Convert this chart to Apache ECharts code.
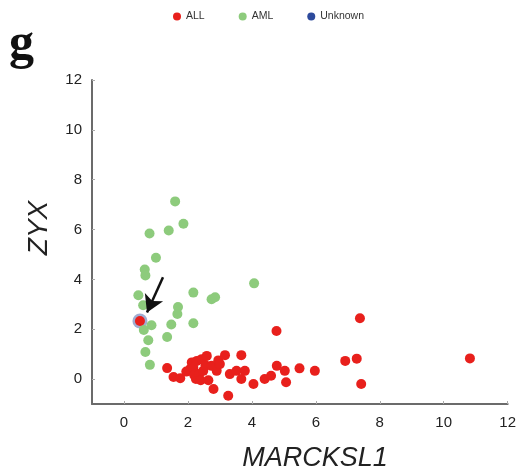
<!DOCTYPE html>
<html>
<head>
<meta charset="utf-8">
<script src="https://cdn.jsdelivr.net/npm/echarts@6/dist/echarts.min.js"></script>
<style>
  html, body { margin: 0; padding: 0; background: #fff; }
  #chart { width: 519px; height: 470px; }
</style>
</head>
<body>
<div id="chart"></div>
<script>
// values (x = MARCKSL1, y = ZYX)
const allPoints = [
  [1.35, 0.44], [1.55, 0.08], [1.76, 0.03], [1.95, 0.3], [2.07, 0.4], [2.12, 0.67],
  [2.17, 0.45], [2.2, 0.15], [2.28, 0.73], [2.25, 0.0], [2.35, 0.2], [2.4, -0.05],
  [2.43, 0.8], [2.48, 0.33], [2.59, 0.93], [2.55, 0.55], [2.64, -0.05], [2.74, 0.53],
  [2.8, -0.4], [2.9, 0.33], [2.95, 0.75], [3.0, 0.6], [3.16, 0.96], [3.26, -0.67],
  [3.31, 0.2], [3.52, 0.33], [3.67, 0.96], [3.67, 0.0], [3.78, 0.33], [4.05, -0.2],
  [4.4, 0.0], [4.6, 0.13], [4.77, 1.93], [4.78, 0.53], [5.03, 0.33], [5.07, -0.13],
  [5.49, 0.43], [5.97, 0.33], [6.92, 0.73], [7.28, 0.82], [7.38, 2.44], [7.42, -0.2],
  [10.82, 0.83], [0.5, 2.33]
];
const amlPoints = [
  [1.6, 7.13], [1.86, 6.23], [1.4, 5.96], [0.8, 5.84], [1.0, 4.87], [0.65, 4.4],
  [0.67, 4.16], [4.07, 3.84], [2.17, 3.47], [0.45, 3.36], [2.74, 3.2], [2.85, 3.28],
  [0.6, 2.96], [1.69, 2.89], [1.67, 2.61], [0.86, 2.16], [1.48, 2.19], [2.17, 2.24],
  [0.62, 1.97], [1.35, 1.69], [0.76, 1.56], [0.67, 1.09], [0.81, 0.57]
];
const unknownPoints = [[0.5, 2.33]];
const arrowFrom = [1.22, 4.09];
const arrowTo = [0.72, 2.67];
const tickValues = [0, 2, 4, 6, 8, 10, 12];

const chart = echarts.init(document.getElementById('chart'));
const font = 'Liberation Sans, Arial, sans-serif';

chart.setOption({
  animation: false,
  legend: {
    top: 6,
    left: 168,
    itemWidth: 8,
    itemHeight: 8,
    itemGap: 34,
    icon: 'circle',
    textStyle: { fontSize: 10.5, color: '#333', fontFamily: font },
    data: ['ALL', 'AML', 'Unknown']
  },
  grid: { left: 92, right: 9, top: 80, bottom: 66 },
  xAxis: {
    type: 'value',
    min: -1,
    max: 12,
    splitLine: { show: false },
    axisLine: { onZero: false, lineStyle: { color: '#6b6b6b', width: 2 } },
    axisTick: { inside: true, length: 3, customValues: tickValues, lineStyle: { color: '#aaa' } },
    axisLabel: { customValues: tickValues, margin: 11, fontSize: 15, color: '#222', fontFamily: font }
  },
  yAxis: {
    type: 'value',
    min: -1,
    max: 12,
    splitLine: { show: false },
    axisLine: { onZero: false, lineStyle: { color: '#6b6b6b', width: 2 } },
    axisTick: { inside: true, length: 3, customValues: tickValues, lineStyle: { color: '#aaa' } },
    axisLabel: { customValues: tickValues, margin: 10, fontSize: 15, color: '#222', fontFamily: font }
  },
  graphic: [
    { type: 'text', left: 9, top: 20, style: { text: 'g', font: 'bold 50px "Liberation Serif", serif', fill: '#111' } },
    { type: 'text', x: 39, y: 228, rotation: Math.PI / 2,
      style: { text: 'ZYX', font: 'italic 28px "Liberation Sans", Arial, sans-serif', fill: '#222', align: 'center', verticalAlign: 'middle' } },
    { type: 'text', x: 315, y: 458,
      style: { text: 'MARCKSL1', font: 'italic 27px "Liberation Sans", Arial, sans-serif', fill: '#222', align: 'center', verticalAlign: 'middle' } }
  ],
  series: [
    {
      name: 'Unknown',
      type: 'scatter',
      z: 1,
      symbolSize: 15,
      itemStyle: { color: '#2d4a9c', opacity: 0.45 },
      data: unknownPoints
    },
    {
      name: 'AML',
      type: 'scatter',
      z: 2,
      symbolSize: 10,
      itemStyle: { color: '#8dcb7c', opacity: 1 },
      data: amlPoints
    },
    {
      name: 'ALL',
      type: 'scatter',
      z: 3,
      symbolSize: 10,
      itemStyle: { color: '#e8201c', opacity: 1 },
      data: allPoints,
      markLine: {
        silent: true,
        symbol: ['none', 'arrow'],
        symbolSize: [15, 17],
        label: { show: false },
        lineStyle: { color: '#111', width: 2.5, type: 'solid' },
        data: [[{ coord: arrowFrom }, { coord: arrowTo }]]
      }
    }
  ]
});
// legend colour for Unknown should be solid
chart.setOption({ legend: { data: ['ALL', 'AML', { name: 'Unknown', itemStyle: { opacity: 1 } }] } });
</script>
</body>
</html>
